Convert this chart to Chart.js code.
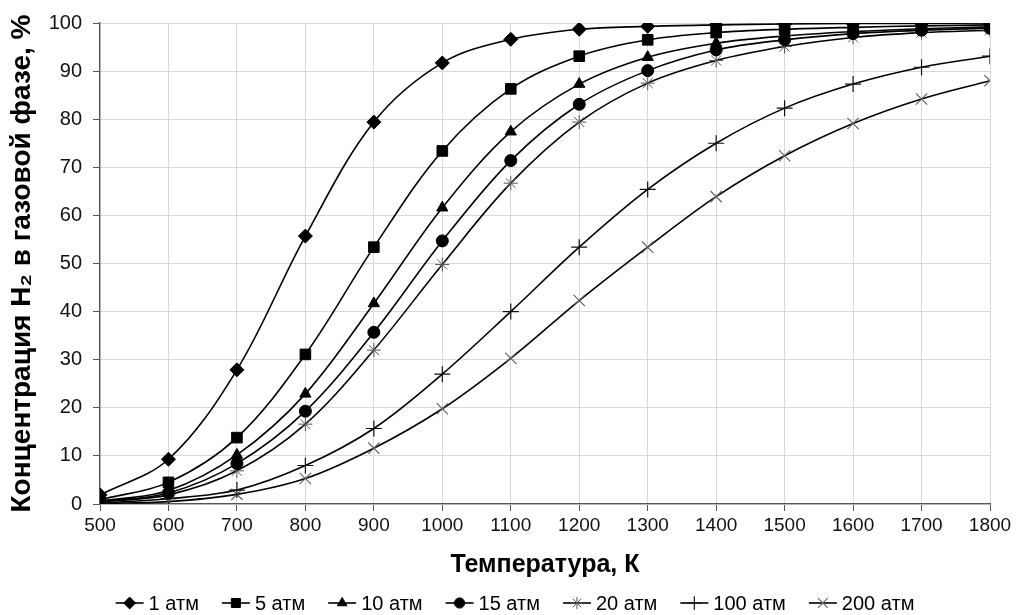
<!DOCTYPE html>
<html>
<head>
<meta charset="utf-8">
<script src="https://cdn.jsdelivr.net/npm/chart.js@4/dist/chart.umd.min.js"></script>
<style>
  html, body { margin: 0; padding: 0; background: #fff; }
  #wrap { width: 1018px; height: 615px; }
</style>
</head>
<body>
<div id="wrap"><canvas id="h2-chart" width="1018" height="615"></canvas></div>
<script>
const temps = [500, 600, 700, 800, 900, 1000, 1100, 1200, 1300, 1400, 1500, 1600, 1700, 1800];
const atm1   = [1.9, 9.3, 27.9, 55.7, 79.4, 91.7, 96.6, 98.7, 99.3, 99.6, 99.8, 99.9, 99.9, 100];
const atm5   = [0.9, 4.5, 13.8, 31.1, 53.4, 73.4, 86.3, 93.1, 96.5, 98.0, 98.7, 99.1, 99.4, 99.6];
const atm10  = [0.6, 2.8, 10.2, 22.9, 41.7, 61.6, 77.4, 87.3, 92.9, 95.8, 97.3, 98.2, 98.8, 99.2];
const atm15  = [0.5, 2.3, 8.4, 19.3, 35.7, 54.7, 71.4, 83.1, 90.1, 94.4, 96.5, 97.8, 98.5, 98.9];
const atm20  = [0.4, 1.9, 6.9, 16.6, 32.0, 49.8, 66.7, 79.4, 87.5, 92.2, 95.1, 97.0, 98.0, 98.5];
const atm100 = [0.2, 1.1, 2.9, 8.0, 15.7, 27.0, 40.0, 53.4, 65.4, 75.0, 82.3, 87.3, 90.8, 93.1];
const atm200 = [0.1, 0.5, 2.0, 5.3, 11.6, 19.8, 30.3, 42.3, 53.4, 63.9, 72.4, 79.1, 84.2, 88.0];
const seriesLabels = ['1 атм', '5 атм', '10 атм', '15 атм', '20 атм', '100 атм', '200 атм'];
const seriesValues = [atm1, atm5, atm10, atm15, atm20, atm100, atm200];
const yTicks = [0, 10, 20, 30, 40, 50, 60, 70, 80, 90, 100];

const markers = [
    { style: 'rectRot', radius: 7, color: '#000', border: 1 },
    { style: 'rect', radius: 7.5, color: '#000', border: 1 },
    { style: 'triangle', radius: 6.5, color: '#000', border: 1 },
    { style: 'circle', radius: 6, color: '#000', border: 1 },
    { style: 'star', radius: 7, color: '#555', border: 1 },
    { style: 'cross', radius: 8, color: '#111', border: 1.2 },
    { style: 'crossRot', radius: 8, color: '#666', border: 1.2 }
];

const FONT = '"Liberation Sans", Arial, sans-serif';

const datasets = seriesLabels.map((label, i) => ({
    label: label,
    data: temps.map((t, j) => ({ x: t, y: seriesValues[i][j] })),
    borderColor: '#000',
    borderWidth: 1.6,
    backgroundColor: markers[i].color,
    pointStyle: markers[i].style,
    pointRadius: markers[i].radius,
    pointBorderColor: markers[i].color,
    pointBackgroundColor: markers[i].color,
    pointBorderWidth: markers[i].border,
    tension: 0.35,
    fill: false
}));

// legend in the Excel way: short line with the marker on it
const lineLegend = {
    id: 'lineLegend',
    afterDraw(chart) {
        const ctx = chart.ctx;
        const y = 603;
        const lineLen = 28, gapText = 5, gapItem = 23;
        ctx.save();
        ctx.font = '20px ' + FONT;
        const widths = seriesLabels.map(l => lineLen + gapText + ctx.measureText(l).width);
        const total = widths.reduce((a, b) => a + b, 0) + gapItem * (widths.length - 1);
        let x = 515 - total / 2;
        seriesLabels.forEach((label, i) => {
            ctx.strokeStyle = '#000';
            ctx.lineWidth = 1.6;
            ctx.beginPath();
            ctx.moveTo(x, y);
            ctx.lineTo(x + lineLen, y);
            ctx.stroke();
            ctx.fillStyle = markers[i].color;
            ctx.strokeStyle = markers[i].color;
            ctx.lineWidth = markers[i].border;
            Chart.helpers.drawPoint(ctx, {
                pointStyle: markers[i].style,
                radius: markers[i].radius * 0.85,
                rotation: 0,
                borderWidth: markers[i].border
            }, x + lineLen / 2, y);
            ctx.fillStyle = '#000';
            ctx.textBaseline = 'middle';
            ctx.textAlign = 'left';
            ctx.fillText(label, x + lineLen + gapText, y + 1);
            x += widths[i] + gapItem;
        });
        ctx.restore();
    }
};

new Chart(document.getElementById('h2-chart'), {
    type: 'line',
    data: { datasets: datasets },
    plugins: [lineLegend],
    options: {
        responsive: false,
        animation: false,
        layout: { padding: { top: 22, right: 28, bottom: 31, left: 0 } },
        scales: {
            x: {
                type: 'linear',
                min: 500,
                max: 1800,
                afterBuildTicks: (scale) => { scale.ticks = temps.map(v => ({ value: v })); },
                afterFit: (scale) => { scale.height = 80; },
                grid: { color: '#d9d9d9', tickColor: '#555', tickLength: 7, lineWidth: 1 },
                border: { color: '#555', width: 1.3 },
                ticks: {
                    color: '#111',
                    font: { family: FONT, size: 19 },
                    padding: 3,
                    maxRotation: 0,
                    callback: (v) => String(v)
                },
                title: {
                    display: true,
                    text: 'Температура, К',
                    color: '#000',
                    font: { family: FONT, size: 25, weight: 'bold' },
                    padding: { top: 7 }
                }
            },
            y: {
                min: 0,
                max: 100,
                afterBuildTicks: (scale) => { scale.ticks = yTicks.map(v => ({ value: v })); },
                afterFit: (scale) => { scale.width = 100; },
                grid: { color: '#d9d9d9', tickColor: '#555', tickLength: 7, lineWidth: 1 },
                border: { color: '#555', width: 1.3 },
                ticks: {
                    color: '#111',
                    font: { family: FONT, size: 20 },
                    padding: 11,
                    callback: (v) => String(v)
                },
                title: {
                    display: true,
                    text: 'Концентрация H₂ в газовой фазе, %',
                    color: '#000',
                    font: { family: FONT, size: 28, weight: 'bold' },
                    padding: { top: 5, bottom: 0 }
                }
            }
        },
        plugins: {
            legend: { display: false },
            tooltip: { enabled: false }
        }
    }
});
</script>
</body>
</html>
